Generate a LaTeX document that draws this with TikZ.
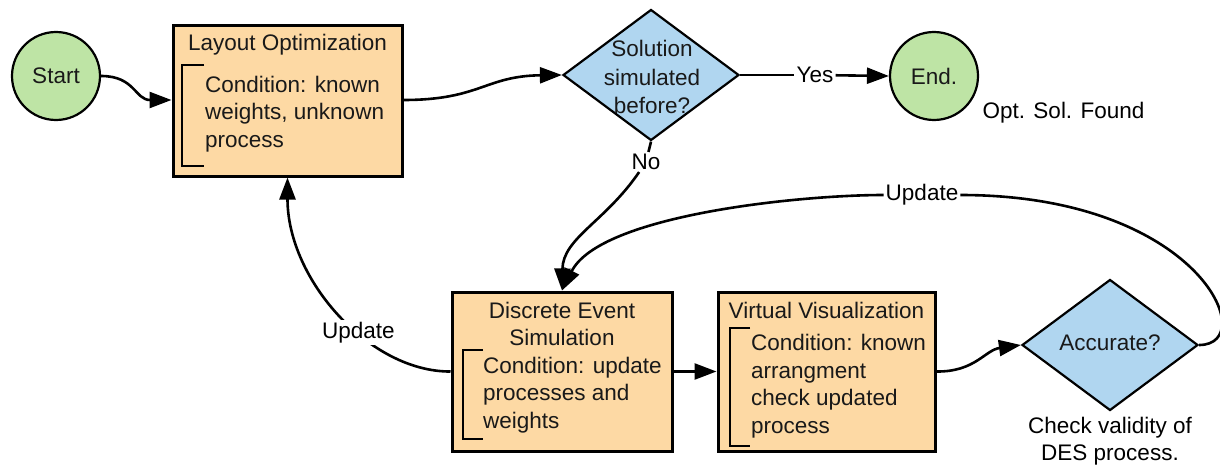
\documentclass[tikz,border=0pt]{standalone}
\usepackage{fontspec}
\setmainfont{Liberation Sans}
\usetikzlibrary{shapes.geometric,arrows.meta}
\definecolor{cgreen}{RGB}{190,228,165}
\definecolor{corange}{RGB}{253,217,164}
\definecolor{cblue}{RGB}{176,214,240}
\definecolor{ctext}{RGB}{25,25,25}
\begin{document}
\begin{tikzpicture}[x=1pt,y=-1pt,
  every node/.style={font=\fontsize{22.5}{27.5}\selectfont},
  term/.style={circle,draw=black,line width=2.2pt,fill=cgreen,minimum size=88pt,inner sep=0pt},
  proc/.style={rectangle,draw=black,line width=3pt,fill=corange,inner sep=0pt},
  dec/.style={diamond,draw=black,line width=2.2pt,fill=cblue,minimum width=176pt,minimum height=131pt,inner sep=0pt},
  txt/.style={inner sep=0pt,text=ctext},
  lbl/.style={fill=white,inner sep=2pt,text=black},
  plain/.style={line width=2.6pt},
  conn/.style={line width=2.6pt,-{Triangle[length=22pt,width=16pt]}},
  brk/.style={line width=2.6pt}
]
\useasboundingbox (0,0) rectangle (1220,468);

% shapes
\node[term] (start) at (56,76) {};
\node[txt] (starttxt) at (56,76) {Start};
\node[term] (end) at (934,76) {};
\node[txt] (endtxt) at (934,76) {End.};

\node[proc,minimum width=229pt,minimum height=150pt] (lay) at (287.5,101) {};
\node[proc,minimum width=220pt,minimum height=159pt] (des) at (562,371.5) {};
\node[proc,minimum width=217pt,minimum height=159pt] (vv) at (826.5,371.5) {};

\node[dec] (sol) at (651,75) {};
\node[txt,align=center,font=\fontsize{22.5}{28.5}\selectfont] (soltxt) at (652,77) {Solution\\simulated\\before?};
\node[dec] (acc) at (1110,345) {};
\node[txt] (acctxt) at (1110,343) {Accurate?};

% box texts
\node[txt] (laytitle) at (287.5,45) {Layout Optimization};
\draw[brk] (204,65) -- (182,65) -- (182,166) -- (204,166);
\node[txt,align=left,anchor=west] (laybody) at (205,114) {Condition: known\\weights, unknown\\process};

\node[txt,align=center] (destitle) at (562,324) {Discrete Event\\Simulation};
\draw[brk] (483,350) -- (463,350) -- (463,439) -- (483,439);
\node[txt,align=left,anchor=west] (desbody) at (483,395) {Condition: update\\processes and\\weights};

\node[txt] (vvtitle) at (826.5,310) {Virtual Visualization};
\draw[brk] (750,328) -- (730,328) -- (730,446) -- (750,446);
\node[txt,align=left,anchor=west] (vvbody) at (751,386) {Condition: known\\arrangment\\check updated\\process};

% free labels
\node[inner sep=0pt] (opt) at (1063.5,113) {Opt. Sol. Found};
\node[inner sep=0pt,align=center] (check) at (1110,441) {Check validity of\\DES process.};

% label nodes on connectors
\node[lbl] (yes) at (815,75) {Yes};
\node[lbl] (no) at (646,162) {No};
\node[lbl] (upd1) at (922,195) {Update};

% connectors
\draw[conn] (start.east) .. controls (135,76) and (135,100) .. (lay.west|-0,100);
\draw[conn] (lay.east|-0,100) .. controls (480,100) and (485,76) .. (sol.west);
\draw[plain] (sol.east) -- (yes);
\draw[conn] (yes) -- (end.west);
\draw[plain] (sol.south) -- (no);
\draw[conn] (no) .. controls (605,222) and (563,238) .. (des.north);
\draw[plain] (acc.east) .. controls (1262,345) and (1200,195) .. (upd1);
\draw[conn] (upd1) .. controls (800,195) and (600,215) .. (des.north);
\draw[conn] (des.east) -- (vv.west);
\draw[conn] (vv.east) .. controls (975,372) and (985,350) .. (acc.west);
\draw[conn] (des.west) .. controls (370,372) and (287.5,280) .. node[lbl,pos=0.4] (upd2) {Update} (lay.south);
\end{tikzpicture}
\end{document}
